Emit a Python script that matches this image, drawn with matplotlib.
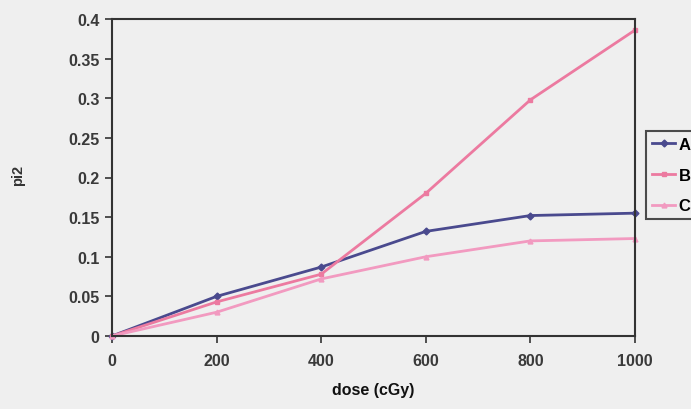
import matplotlib
matplotlib.use("Agg")
import matplotlib.pyplot as plt

dose = [0, 200, 400, 600, 800, 1000]
series_a = [0, 0.05, 0.087, 0.132, 0.152, 0.155]
series_b = [0, 0.043, 0.078, 0.18, 0.298, 0.386]
series_c = [0, 0.03, 0.072, 0.1, 0.12, 0.123]
series_names = ["A", "B", "C"]
x_ticks = [0, 200, 400, 600, 800, 1000]
y_ticks = [0, 0.05, 0.1, 0.15, 0.2, 0.25, 0.3, 0.35, 0.4]
y_tick_labels = ["0", "0.05", "0.1", "0.15", "0.2", "0.25", "0.3", "0.35", "0.4"]

plt.rcParams['font.family'] = ['Liberation Sans', 'DejaVu Sans']
bg = '#efefef'
fig = plt.figure(figsize=(6.91, 4.10), dpi=100, facecolor=bg)
ax = fig.add_axes([112/691, 1-337/410, (635-112)/691, (337-20)/410])
ax.set_facecolor(bg)

colors = ['#4a4a8e', '#ec7aa0', '#f29ac0']
markers = ['D', 's', '^']
for vals, name, c, m in zip([series_a, series_b, series_c], series_names, colors, markers):
    ax.plot(dose, vals, color=c, lw=2.0, marker=m, ms=3.5, label=name, clip_on=False)

ax.set_xlim(0, 1000)
ax.set_ylim(0, 0.4)
ax.set_xticks(x_ticks)
ax.set_xticklabels([str(t) for t in x_ticks])
ax.set_yticks(y_ticks)
ax.set_yticklabels(y_tick_labels)
for s in ax.spines.values():
    s.set_color('#333333')
    s.set_linewidth(1.5)
ax.tick_params(axis='both', direction='out', length=5, width=1.2, color='#333333',
               labelsize=11.5, labelcolor='#3a3a3a')
ax.tick_params(axis='x', pad=7)
ax.tick_params(axis='y', pad=4)
for lab in ax.get_xticklabels() + ax.get_yticklabels():
    lab.set_fontweight('bold')

ax.set_xlabel("dose (cGy)", fontsize=11.5, fontweight='bold', color='#111111', labelpad=10)
fig.text(18/691, 1-175/410, "pi2", rotation=90, fontsize=10.5, fontweight='bold',
         color='#333333', ha='center', va='center')

leg = fig.legend(loc='upper left', bbox_to_anchor=(646/691, 1-132/410), frameon=True,
                 fancybox=False, edgecolor='#222222', facecolor=bg, fontsize=12,
                 handlelength=1.4, handletextpad=0.2, borderpad=0.35, labelspacing=0.95,
                 borderaxespad=0)
leg.get_frame().set_linewidth(1.5)
for t in leg.get_texts():
    t.set_fontweight('bold')

fig.savefig("out.png", dpi=100, facecolor=bg)
